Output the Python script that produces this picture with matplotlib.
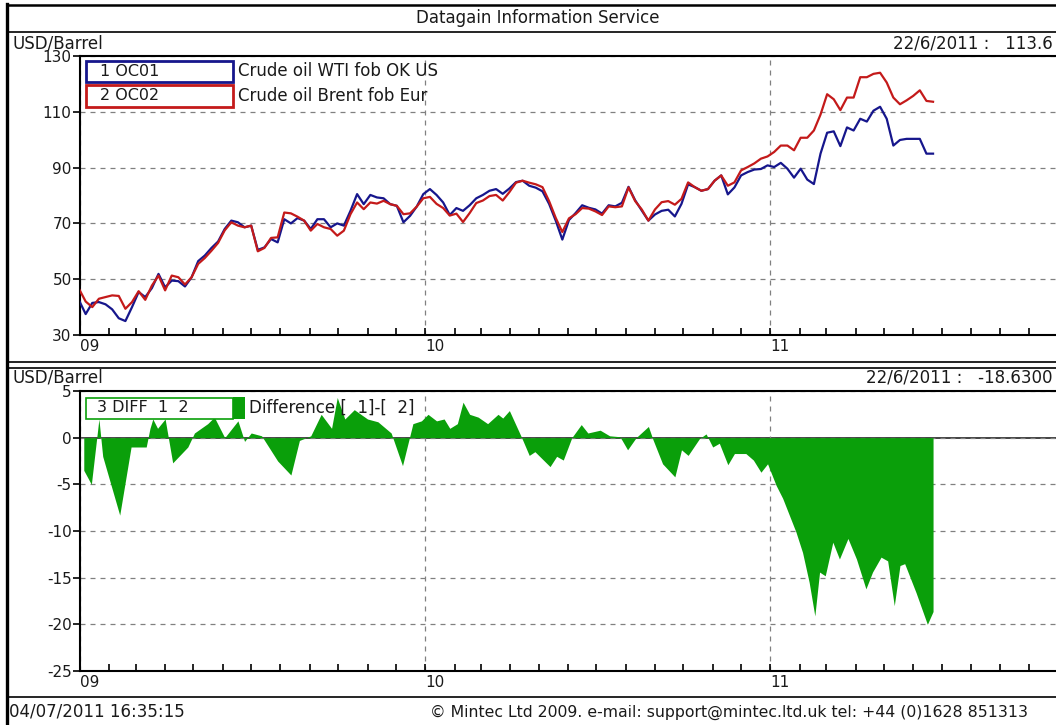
import matplotlib
matplotlib.use('Agg')
import matplotlib.pyplot as plt
import matplotlib.dates as mdates
from matplotlib.lines import Line2D
from matplotlib.patches import Rectangle
import pandas as pd

# weekly prices, USD/Barrel
wti = [42.4, 37.5, 41.5, 41.8, 41.0, 39.2, 36.0, 35.0, 40.0, 45.4,
       43.6, 46.8, 51.9, 47.1, 49.5, 49.3, 47.4, 50.7, 56.5, 58.5,
       61.2, 63.5, 68.0, 71.0, 70.4, 68.6, 69.2, 60.5, 61.4, 64.4,
       63.2, 71.5, 70.0, 71.9, 71.0, 68.0, 71.5, 71.5, 68.6, 70.0,
       69.2, 74.5, 80.5, 76.9, 80.2, 79.3, 79.0, 76.9, 76.3, 70.4,
       72.7, 76.0, 80.5, 82.3, 80.2, 77.5, 73.0, 75.5, 74.5, 76.5,
       79.0, 80.2, 81.7, 82.3, 80.6, 82.5, 84.8, 85.3, 83.5, 82.8,
       81.5, 77.0, 71.0, 64.2, 71.2, 73.7, 76.5, 75.6, 75.0, 73.5,
       76.5, 76.1, 77.4, 83.1, 78.3, 74.6, 71.0, 73.2, 74.5, 74.9,
       72.5, 77.0, 84.0, 83.0, 81.7, 82.3, 85.3, 87.2, 80.4, 82.9,
       87.2, 88.4, 89.3, 89.5, 90.8, 90.2, 91.7, 89.6, 86.4, 89.6,
       85.7, 84.1, 95.0, 102.5, 103.0, 97.7, 104.4, 103.3, 107.5, 106.5,
       110.4, 111.8, 107.5, 97.9, 99.9, 100.3, 100.3, 100.3, 95.0, 95.0]

brent = [46.5, 42.0, 40.0, 43.0, 43.6, 44.2, 44.0, 39.4, 41.8, 45.7,
         42.6, 47.7, 51.3, 46.0, 51.3, 50.7, 48.1, 50.7, 55.5, 57.6,
         60.2, 63.0, 67.5, 70.4, 69.2, 68.6, 69.2, 60.0, 61.2, 64.8,
         65.0, 73.9, 73.6, 72.4, 71.0, 67.4, 69.8, 68.6, 68.0, 65.6,
         67.4, 73.3, 77.5, 75.1, 77.5, 77.1, 78.1, 76.9, 76.3, 73.3,
         73.6, 76.0, 79.0, 79.5, 77.0, 75.5, 72.8, 73.5, 70.5, 73.7,
         77.3, 78.2, 79.8, 80.2, 78.2, 81.2, 84.6, 85.3, 84.6, 84.0,
         83.0, 78.0, 72.0, 66.9, 71.8, 73.3, 75.5, 75.3, 74.3, 73.0,
         76.1, 75.8, 76.1, 82.9, 78.0, 75.0, 71.0, 75.0, 77.6, 78.0,
         76.7, 78.8, 84.7, 83.0, 81.7, 82.3, 85.3, 87.2, 83.5, 84.7,
         89.0, 90.2, 91.5, 93.2, 94.0, 95.6, 97.9, 97.9, 96.2, 100.7,
         100.7, 103.3, 109.0, 116.3, 114.5, 110.6, 115.1, 115.1, 122.4, 122.4,
         123.6, 124.0, 120.5, 115.1, 112.7, 114.1, 115.7, 117.7, 113.9, 113.6]

price_dates = pd.date_range(end='2011-06-22', periods=len(wti), freq='7D')

# difference WTI - Brent, day offsets from 1 Jan 2009
diff_days = [4, 12, 20, 24, 42, 54, 70, 74, 77, 82, 90, 98, 114, 121, 135, 142,
             153, 167, 174, 181, 192, 209, 223, 232, 244, 255, 266, 272, 280, 290,
             304, 315, 329, 341, 352, 361, 368, 377, 385, 391, 399, 405, 412, 421,
             431, 442, 447, 454, 467, 475, 481, 497, 504, 511, 520, 530, 537, 550,
             560, 571, 579, 588, 601, 606, 616, 629, 636, 643, 655, 662, 669, 676,
             685, 692, 704, 712, 720, 727, 736, 743, 750, 757, 764, 771, 777, 782,
             788, 796, 803, 812, 821, 831, 838, 847, 854, 861, 867, 872, 884, 896, 902]
diff_vals = [-3.5, -5.0, 2.0, -2.0, -8.3, -1.0, -1.0, 1.0, 2.0, 1.0, 2.0, -2.7, -1.0, 0.5, 1.5, 2.2,
             0.0, 1.8, -0.4, 0.5, 0.2, -2.5, -4.0, -0.3, 0.2, 2.5, 1.0, 4.3, 2.0, 3.0,
             2.0, 1.7, 0.5, -3.0, 1.5, 1.8, 2.5, 1.8, 2.0, 1.0, 1.5, 3.8, 2.5, 2.2,
             1.5, 2.5, 2.1, 2.9, 0.0, -1.9, -1.5, -3.1, -2.0, -2.4, 0.0, 1.4, 0.5, 0.8,
             0.2, 0.1, -1.3, 0.0, 1.2, -0.25, -2.8, -4.2, -1.3, -1.9, -0.1, 0.4, -1.0, -0.6,
             -2.9, -1.7, -1.7, -2.4, -3.7, -2.8, -5.1, -6.5, -8.3, -10.1, -12.3, -15.5, -19.1, -14.4,
             -14.8, -11.2, -13.0, -10.8, -13.0, -16.2, -14.4, -12.8, -13.2, -18.0, -13.7, -13.5, -16.6, -20.0, -18.63]
diff_dates = pd.Timestamp('2009-01-01') + pd.to_timedelta(diff_days, unit='D')

year_ticks = pd.to_datetime(['2009-01-01', '2010-01-01', '2011-01-01'])
year_labels = ['09', '10', '11']
price_ticks = [30, 50, 70, 90, 110, 130]
diff_ticks = [5, 0, -5, -10, -15, -20, -25]

BLUE = '#16168c'
RED = '#c41a1a'
GREEN = '#0a9f0a'
TXT = '#1a1a1a'

plt.rcParams['font.family'] = ['DejaVu Sans']
plt.rcParams['axes.unicode_minus'] = False

W, H = 1056, 725
fig = plt.figure(figsize=(W / 100, H / 100), dpi=100)
fig.patch.set_facecolor('white')


def fx(x):
    return x / W


def fy(y):
    return 1 - y / H


def hline(y, x0=7, x1=W, lw=1.2):
    fig.add_artist(Line2D([fx(x0), fx(x1)], [fy(y), fy(y)], color='black', lw=lw,
                          transform=fig.transFigure))


def ftext(x, y, s, ha='left', size=12, **kw):
    fig.text(fx(x), fy(y), s, ha=ha, va='center', fontsize=size, color=TXT, zorder=5, **kw)


def setup_axes(ax, ylim, yticks):
    ax.set_xlim(pd.Timestamp('2009-01-01'), pd.Timestamp('2011-10-30'))
    ax.set_ylim(*ylim)
    ax.set_yticks(yticks)
    ax.set_xticks(year_ticks)
    ax.set_xticklabels(year_labels, ha='left')
    ax.xaxis.set_minor_locator(mdates.MonthLocator())
    ax.tick_params(axis='x', which='both', direction='in', length=5, width=1.2,
                   labelsize=11, labelcolor=TXT, pad=3)
    ax.tick_params(axis='y', direction='out', length=5, width=1.2,
                   labelsize=11, labelcolor=TXT, pad=1)
    ax.grid(True, which='major', linestyle=(0, (4, 4)), color='#808080', lw=0.9)
    ax.spines['right'].set_visible(False)
    for side in ['left', 'top', 'bottom']:
        ax.spines[side].set_linewidth(1.5)
    ax.set_facecolor('white')


# 上图: 价格
ax1 = fig.add_axes([fx(80), fy(335), fx(W) - fx(80), fy(56) - fy(335)])
setup_axes(ax1, (30, 130), price_ticks)
ax1.plot(price_dates, wti, color=BLUE, lw=1.6, zorder=3)
ax1.plot(price_dates, brent, color=RED, lw=1.6, zorder=3)

# 下图: 价差
ax2 = fig.add_axes([fx(80), fy(671), fx(W) - fx(80), fy(391) - fy(671)])
setup_axes(ax2, (-25, 5), diff_ticks)
ax2.axhline(0, color='#222222', lw=1.2, zorder=1)
ax2.fill_between(diff_dates, diff_vals, 0, color=GREEN, lw=0, zorder=2)

# frame and separators
fig.add_artist(Line2D([fx(7), fx(7)], [fy(4), 0], color='black', lw=2.4, transform=fig.transFigure))
hline(5, lw=1.8)
hline(32)
hline(362)
hline(368)
hline(697)

# header texts
ftext(538, 18, 'Datagain Information Service', ha='center')
ftext(12, 43, 'USD/Barrel')
ftext(1053, 43, '22/6/2011 :   113.6', ha='right')
ftext(12, 377, 'USD/Barrel')
ftext(1053, 378, '22/6/2011 :   -18.6300', ha='right')
ftext(9, 712, '04/07/2011 16:35:15')
ftext(430, 712, '\u00a9 Mintec Ltd 2009. e-mail: support@mintec.ltd.uk tel: +44 (0)1628 851313', size=11.3)

# legend boxes
for (y0, y1, col, code, name) in [(61, 82, BLUE, '1 OC01', 'Crude oil WTI fob OK US'),
                                  (85, 107, RED, '2 OC02', 'Crude oil Brent fob Eur')]:
    fig.add_artist(Rectangle((fx(86), fy(y1)), fx(233) - fx(86), fy(y0) - fy(y1),
                             transform=fig.transFigure, facecolor='white', edgecolor=col, lw=2, zorder=4))
    ftext(100, (y0 + y1) / 2, code, size=11.5)
    ftext(238, (y0 + y1) / 2, name)

fig.add_artist(Rectangle((fx(86), fy(419)), fx(233) - fx(86), fy(398) - fy(419),
                         transform=fig.transFigure, facecolor='white', edgecolor=GREEN, lw=1.2, zorder=4))
fig.add_artist(Rectangle((fx(233), fy(419)), fx(245) - fx(233), fy(397) - fy(419),
                         transform=fig.transFigure, facecolor=GREEN, edgecolor='none', zorder=4))
ftext(97, 408, '3 DIFF  1  2', size=11.5)
ftext(249, 408, 'Difference [  1]-[  2]')

fig.savefig('out.png', dpi=100)
